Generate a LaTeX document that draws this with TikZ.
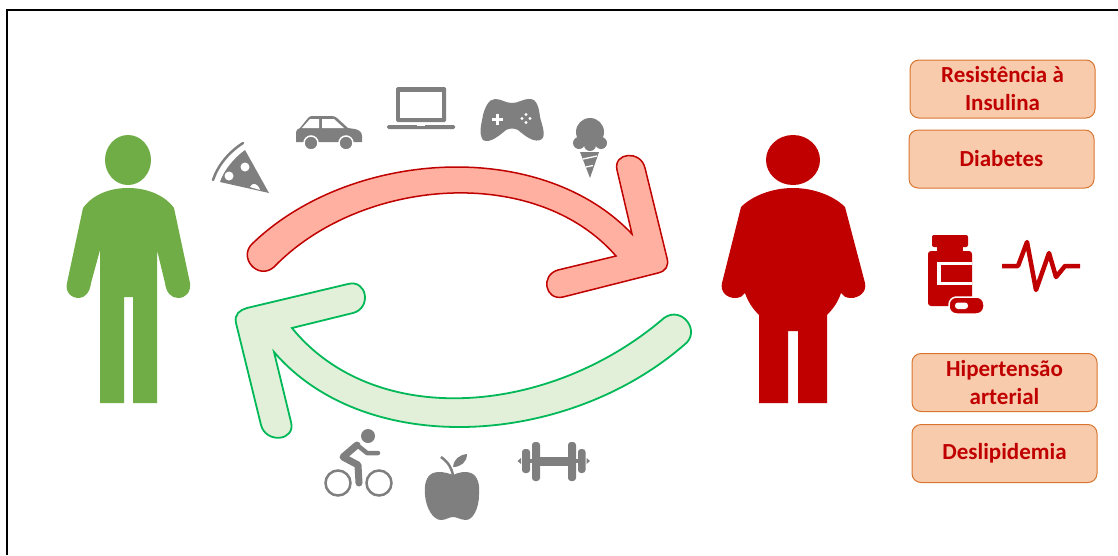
\documentclass[tikz,border=0pt]{standalone}
\usepackage{fontspec}
\setmainfont{Carlito}
\definecolor{greenish}{HTML}{70AD47}
\definecolor{redish}{HTML}{C00000}
\definecolor{grayish}{HTML}{7F7F7F}
\definecolor{salmonish}{HTML}{FFB0A0}
\definecolor{mintish}{HTML}{E2F0D9}
\definecolor{arrowgreen}{HTML}{00B858}
\definecolor{peachish}{HTML}{F8CBAD}
\definecolor{rustish}{HTML}{D8752F}
\tikzset{
    illness/.style={draw=rustish, fill=peachish, rounded corners=9pt, line width=1pt, minimum width=185pt, minimum height=58pt, inner sep=0pt, align=center, text=redish, font=\fontsize{23}{28}\selectfont\bfseries},
    hole/.style={fill=white, draw=none},
    icon/.style={fill=grayish, draw=none},
}
\begin{document}
\begin{tikzpicture}[x=1pt,y=-1pt]
    \useasboundingbox (0,0) rectangle (1118,555);
    \draw[line width=2pt] (7,555) -- (7,10) -- (1118,10);
    % left figure
    \fill[greenish] (128,160) ellipse (23pt and 25pt);
    \fill[greenish] (128,188) .. controls (105,188) and (90,198) .. (83,208) -- (67,283) .. controls (65,292) and (71,298) .. (79,298) .. controls (85,298) and (90,292) .. (91,283) -- (100,250) -- (100,403) -- (124,403) -- (124,297) -- (133,297) -- (133,403) -- (157,403) -- (157,250) -- (165,283) .. controls (166,292) and (171,298) .. (178,298) .. controls (186,298) and (191,292) .. (190,283) -- (174,208) .. controls (167,198) and (151,188) .. (128,188) -- cycle;
    % right figure
    \fill[redish] (793,160) ellipse (27pt and 25pt);
    \fill[redish] (793,188) .. controls (772,188) and (752,196) .. (741,207) -- (722,283) .. controls (720,292) and (727,298) .. (735,298) .. controls (740,298) and (743,296) .. (745,293) .. controls (748,302) and (753,309) .. (759,315) -- (759,403) -- (788,403) -- (788,331) -- (798,331) -- (798,403) -- (827,403) -- (827,315) .. controls (833,309) and (838,302) .. (841,293) .. controls (843,296) and (846,298) .. (851,298) .. controls (859,298) and (867,292) .. (865,283) -- (845,207) .. controls (834,196) and (814,188) .. (793,188) -- cycle;
    % arrows
    \filldraw[fill=salmonish, draw=redish, line width=1.5pt, line join=miter] (253,243) .. controls (350,150) and (540,137) .. (632,234) -- (617,170) .. controls (613,152) and (641,150) .. (645,168) -- (667,258) .. controls (669,266) and (666,271) .. (658,273) -- (563,297) .. controls (545,301) and (540,275) .. (558,270) -- (616,256) .. controls (535,163) and (360,178) .. (274,267) .. controls (258,281) and (237,257) .. (253,243) -- cycle;
    \filldraw[fill=mintish, draw=arrowgreen, line width=1.8pt, line join=miter] (292,328) .. controls (375,430) and (550,416) .. (664,318) .. controls (682,305) and (702,332) .. (684,345) .. controls (565,448) and (365,458) .. (274,352) -- (291,422) .. controls (296,441) and (266,444) .. (261,425) -- (236,323) .. controls (234,314) and (240,310) .. (247,308) -- (348,284) .. controls (367,279) and (372,308) .. (353,313) -- cycle;
    % pizza
    \draw[grayish, line width=2.5pt, line cap=round] (213,180) .. controls (218,165) and (229,152) .. (243,143);
    \fill[grayish] (269,193) -- (220,182) .. controls (224,170) and (234,158) .. (245,150) -- cycle;
    \fill[hole] (245,167) circle (4.5pt);
    \fill[hole] (229,176) circle (4.5pt);
    \fill[hole] (250,187) .. controls (252,182) and (258,183) .. (260,190) -- cycle;
    % car
    \fill[icon] (296,142) -- (296,132) .. controls (296,130) and (298,129) .. (300,128) -- (308,118) .. controls (309,117) and (310,116) .. (312,116) -- (332,116) .. controls (334,116) and (336,117) .. (337,118) -- (348,128) -- (355,129) .. controls (360,130) and (362,133) .. (362,136) -- (362,142) -- cycle;
    \fill[hole] (302,128) -- (310,119) -- (319,119) -- (319,128) -- cycle;
    \fill[hole] (322,119) -- (334,119) -- (344,128) -- (322,128) -- cycle;
    \filldraw[fill=grayish, draw=white, line width=1.5pt] (311,143) circle (7pt);
    \filldraw[fill=grayish, draw=white, line width=1.5pt] (346,143) circle (7pt);
    % laptop
    \fill[icon, rounded corners=1.5pt] (396,122) rectangle (446,87);
    \fill[hole] (400,118) rectangle (442,92);
    \fill[icon, rounded corners=1.5pt] (387,125) rectangle (455,129);
    \fill[hole] (417,125) rectangle (425,126);
    % gamepad
    \fill[icon] (495,99) .. controls (502,99) and (505,103) .. (512,103) .. controls (519,103) and (522,99) .. (530,99) .. controls (537,99) and (539,108) .. (540,117) .. controls (542,125) and (546,135) .. (542,139) .. controls (535,144) and (525,136) .. (518,130) .. controls (514,128) and (510,128) .. (506,130) .. controls (499,136) and (489,144) .. (483,140) .. controls (478,133) and (482,122) .. (483,115) .. controls (485,107) and (489,99) .. (495,99) -- cycle;
    \fill[hole] (496,113.5) rectangle (499,124.5);
    \fill[hole] (492,117.5) rectangle (503,120.5);
    \fill[hole] (526,114.5) circle (1.7pt);
    \fill[hole] (526,122.5) circle (1.7pt);
    \fill[hole] (522,118.5) circle (1.7pt);
    \fill[hole] (530,118.5) circle (1.7pt);
    % ice cream
    \fill[grayish] (590,132) circle (14pt);
    \fill[grayish] (579,143) circle (6pt);
    \fill[grayish] (590,145) circle (6pt);
    \fill[grayish] (601,143) circle (6pt);
    \fill[grayish] (580,152) -- (599,152) -- (590,178) -- cycle;
    \draw[white, line width=1.3pt] (583,159) -- (597,156);
    \draw[white, line width=1.3pt] (586,167) -- (593,165.5);
    % cyclist
    \fill[grayish] (368,436) circle (7pt);
    \draw[grayish, line width=2.5pt] (338,483) circle (12.5pt);
    \draw[grayish, line width=2.5pt] (379,483) circle (12.5pt);
    \draw[grayish, line width=7pt, line cap=round, line join=round] (359,483) -- (358,465) -- (343,457) -- (357,445);
    \draw[grayish, line width=4.5pt, line cap=round, line join=round] (357,445) -- (367,453) -- (378,453);
    % apple
    \fill[icon] (453,475) .. controls (446,472) and (438,471) .. (433,473) .. controls (426,476) and (424,485) .. (425,495) .. controls (426,508) and (433,520) .. (441,520) .. controls (446,520) and (449,517) .. (453,517) .. controls (457,517) and (461,520) .. (466,520) .. controls (473,520) and (479,508) .. (479,495) .. controls (480,485) and (478,476) .. (471,473) .. controls (466,471) and (459,472) .. (453,475) -- cycle;
    \draw[grayish, line width=2.5pt] (441,457) .. controls (448,462) and (452,468) .. (453,476);
    \fill[grayish] (453,467) .. controls (454,459) and (459,455) .. (467,454) .. controls (467,462) and (461,467) .. (453,467) -- cycle;
    % dumbbell
    \fill[icon] (538,457) rectangle (570,466);
    \fill[icon, rounded corners=3pt] (532,442) rectangle (540,481);
    \fill[icon, rounded corners=3pt] (568,442) rectangle (576,481);
    \fill[icon, rounded corners=3pt] (522,449) rectangle (530,473);
    \fill[icon, rounded corners=3pt] (578,449) rectangle (585.5,473);
    \fill[grayish] (521,458) -- (517.5,461) -- (521,464) -- cycle;
    \fill[grayish] (586.5,458) -- (590,461) -- (586.5,464) -- cycle;
    \fill[icon] (528,459) rectangle (534,463);
    \fill[icon] (574,459) rectangle (580,463);
    % bottle
    \fill[redish, rounded corners=2pt] (932,235) rectangle (968,247);
    \fill[redish] (937,246) rectangle (963,252);
    \fill[redish, rounded corners=3pt] (928,251) rectangle (972,306);
    \draw[white, line width=3.5pt] (972,263.5) -- (939,263.5) -- (939,283.5) -- (972,283.5);
    \filldraw[fill=redish, draw=white, line width=1.5pt, rounded corners=7.5pt] (949,297) rectangle (984,314);
    \fill[hole, rounded corners=3pt] (955,302.5) rectangle (968,309);
    % heartbeat
    \draw[redish, line width=4.5pt, line join=round] (1002,266) -- (1018,266) -- (1027,242) -- (1036,290) -- (1049,253) -- (1056,277) -- (1065,266) -- (1080,266);
    % boxes
    \node[illness] (resistencia) at (1002.5,89) {Resistência à\\Insulina};
    \node[illness] (diabetes) at (1001.5,159) {Diabetes};
    \node[illness] (hipertensao) at (1004.5,382.5) {Hipertensão\\arterial};
    \node[illness] (deslipidemia) at (1004.5,453.5) {Deslipidemia};
\end{tikzpicture}
\end{document}
